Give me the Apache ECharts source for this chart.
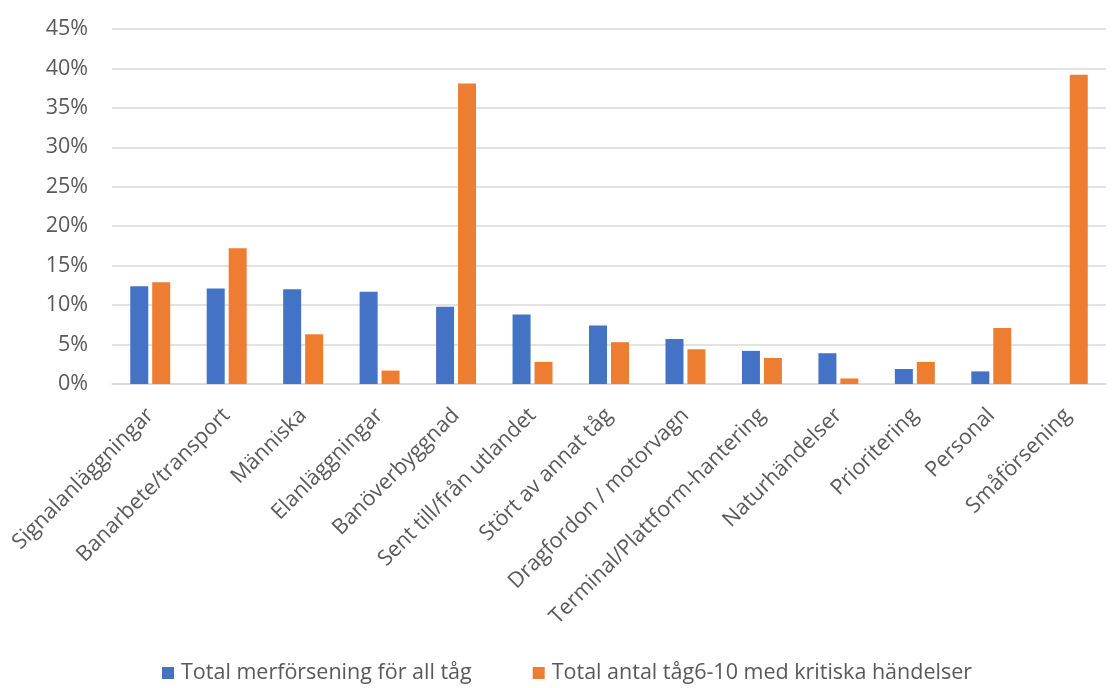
<!DOCTYPE html>
<html>
<head>
<meta charset="utf-8">
<script src="https://cdn.jsdelivr.net/npm/echarts@6/dist/echarts.min.js"></script>
<style>
  html, body { margin: 0; padding: 0; background: #fff; }
  #chart { width: 1120px; height: 688px; }
</style>
</head>
<body>
<div id="chart"></div>
<script>
// Delay categories
const categories = [
  'Signalanläggningar', 'Banarbete/transport', 'Människa', 'Elanläggningar',
  'Banöverbyggnad', 'Sent till/från utlandet', 'Stört av annat tåg',
  'Dragfordon / motorvagn', 'Terminal/Plattform-hantering', 'Naturhändelser',
  'Prioritering', 'Personal', 'Småförsening'
];

// Share of total extra delay, all trains (%)
const merforsening = [12.4, 12.1, 12.0, 11.7, 9.8, 8.8, 7.4, 5.7, 4.2, 3.9, 1.9, 1.6, 0];

// Share of trains 6-10 with critical events (%)
const kritiska = [12.9, 17.2, 6.3, 1.7, 38.1, 2.8, 5.3, 4.4, 3.3, 0.7, 2.8, 7.1, 39.2];

const seriesNames = ['Total merförsening för all tåg', 'Total antal tåg6-10 med kritiska händelser'];

const yTicks = { min: 0, max: 45, interval: 5 };

const FONT = 'Open Sans';
const TEXT = '#595959';
const SIZE = 21.5;

const chart = echarts.init(document.getElementById('chart'), null, { renderer: 'canvas' });
chart.setOption({
  animation: false,
  color: ['#4472C4', '#ED7D31'],
  textStyle: { fontFamily: FONT },
  grid: { left: 112, right: 14, top: 29, bottom: 304, containLabel: false },
  legend: {
    data: seriesNames,
    left: 162,
    top: 662,
    padding: 0,
    icon: 'rect',
    itemWidth: 12,
    itemHeight: 12,
    itemGap: 61,
    textStyle: { fontFamily: FONT, fontSize: SIZE, color: TEXT, padding: [0, 0, 0, 2] }
  },
  xAxis: {
    type: 'category',
    data: categories,
    axisTick: { show: false },
    axisLine: { lineStyle: { color: '#d9d9d9', width: 1.5 } },
    axisLabel: {
      interval: 0,
      rotate: 45,
      margin: 28,
      fontFamily: FONT,
      fontSize: SIZE,
      color: TEXT
    }
  },
  yAxis: {
    type: 'value',
    min: yTicks.min,
    max: yTicks.max,
    interval: yTicks.interval,
    axisLine: { show: false },
    axisTick: { show: false },
    splitLine: { lineStyle: { color: '#d9d9d9', width: 1.5 } },
    axisLabel: {
      formatter: '{value}%',
      margin: 24,
      fontFamily: FONT,
      fontSize: SIZE,
      color: TEXT
    }
  },
  series: [
    {
      name: seriesNames[0],
      type: 'bar',
      data: merforsening,
      barWidth: 18,
      barGap: '22%'
    },
    {
      name: seriesNames[1],
      type: 'bar',
      data: kritiska,
      barWidth: 18,
      barGap: '22%'
    }
  ]
});
</script>
</body>
</html>
